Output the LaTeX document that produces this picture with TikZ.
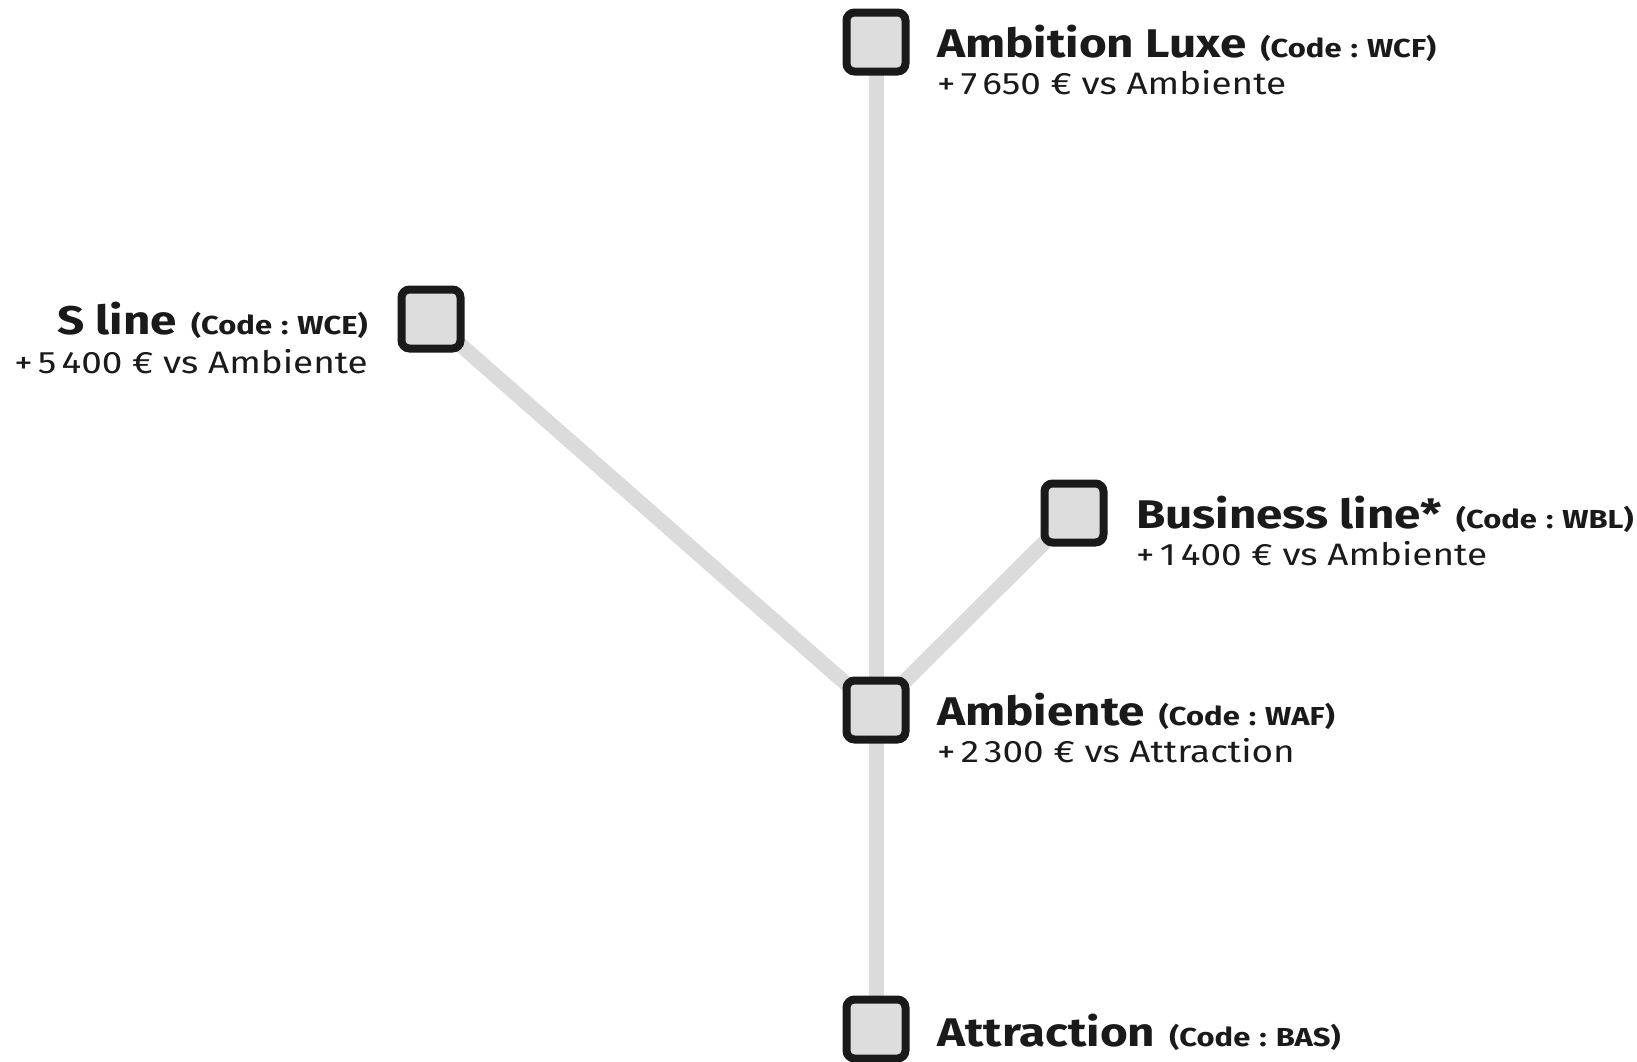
\documentclass[tikz,border=0pt]{standalone}
\usepackage{fontspec}
\setmainfont{Fira Sans}[FakeStretch=1.19]
\definecolor{linegray}{HTML}{DADBDA}
\definecolor{boxgray}{HTML}{DCDDDC}
\definecolor{ink}{HTML}{1A1A1A}
\newcommand\tsz{\fontsize{40}{40}\selectfont\bfseries}
\newcommand\csz{\fontsize{26}{26}\selectfont\bfseries}
\newcommand\ssz{\fontsize{31}{31}\selectfont}
\newcommand\cd[1]{(Code\hspace{9pt}:\hspace{9pt}#1)}
\begin{document}
\begin{tikzpicture}[x=1pt,y=-1pt,
  trimbox/.style={draw=ink, line width=8pt, fill=boxgray, rounded corners=8pt,
    minimum size=59pt, inner sep=0pt},
  link/.style={draw=linegray, line width=15pt},
  title/.style={inner sep=0pt, text=ink},
  sub/.style={inner sep=0pt, text=ink}]
\useasboundingbox (0,0) rectangle (1637,1061);
\coordinate (cLux) at (876,42);
\coordinate (cS) at (431,319);
\coordinate (cBus) at (1074,513);
\coordinate (cAmb) at (876,710);
\coordinate (cAtt) at (876,1029);
\draw[link] (cLux) -- (cAmb);
\draw[link] (cS) -- (cAmb);
\draw[link] (cBus) -- (cAmb);
\draw[link] (cAmb) -- (cAtt);
\node[trimbox] (bLux) at (cLux) {};
\node[trimbox] (bS) at (cS) {};
\node[trimbox] (bBus) at (cBus) {};
\node[trimbox] (bAmb) at (cAmb) {};
\node[trimbox] (bAtt) at (cAtt) {};
\node[title, anchor=base west] (tLux) at (937,57) {\tsz Ambition Luxe\hspace{14pt}{\csz \cd{WCF}}};
\node[sub, anchor=base west] (sLux) at (937,94) {\ssz +\,7\,650~€ vs Ambiente};
\node[title, anchor=base east] (tS) at (368,334) {\tsz S line\hspace{14pt}{\csz \cd{WCE}}};
\node[sub, anchor=base east] (sS) at (368,373) {\ssz +\,5\,400~€ vs Ambiente};
\node[title, anchor=base west] (tBus) at (1136,528) {\tsz Business line*\hspace{14pt}{\csz \cd{WBL}}};
\node[sub, anchor=base west] (sBus) at (1136,565) {\ssz +\,1\,400~€ vs Ambiente};
\node[title, anchor=base west] (tAmb) at (937,725) {\tsz Ambiente\hspace{14pt}{\csz \cd{WAF}}};
\node[sub, anchor=base west] (sAmb) at (937,762) {\ssz +\,2\,300~€ vs Attraction};
\node[title, anchor=base west] (tAtt) at (937,1046) {\tsz Attraction\hspace{14pt}{\csz \cd{BAS}}};
\end{tikzpicture}
\end{document}
